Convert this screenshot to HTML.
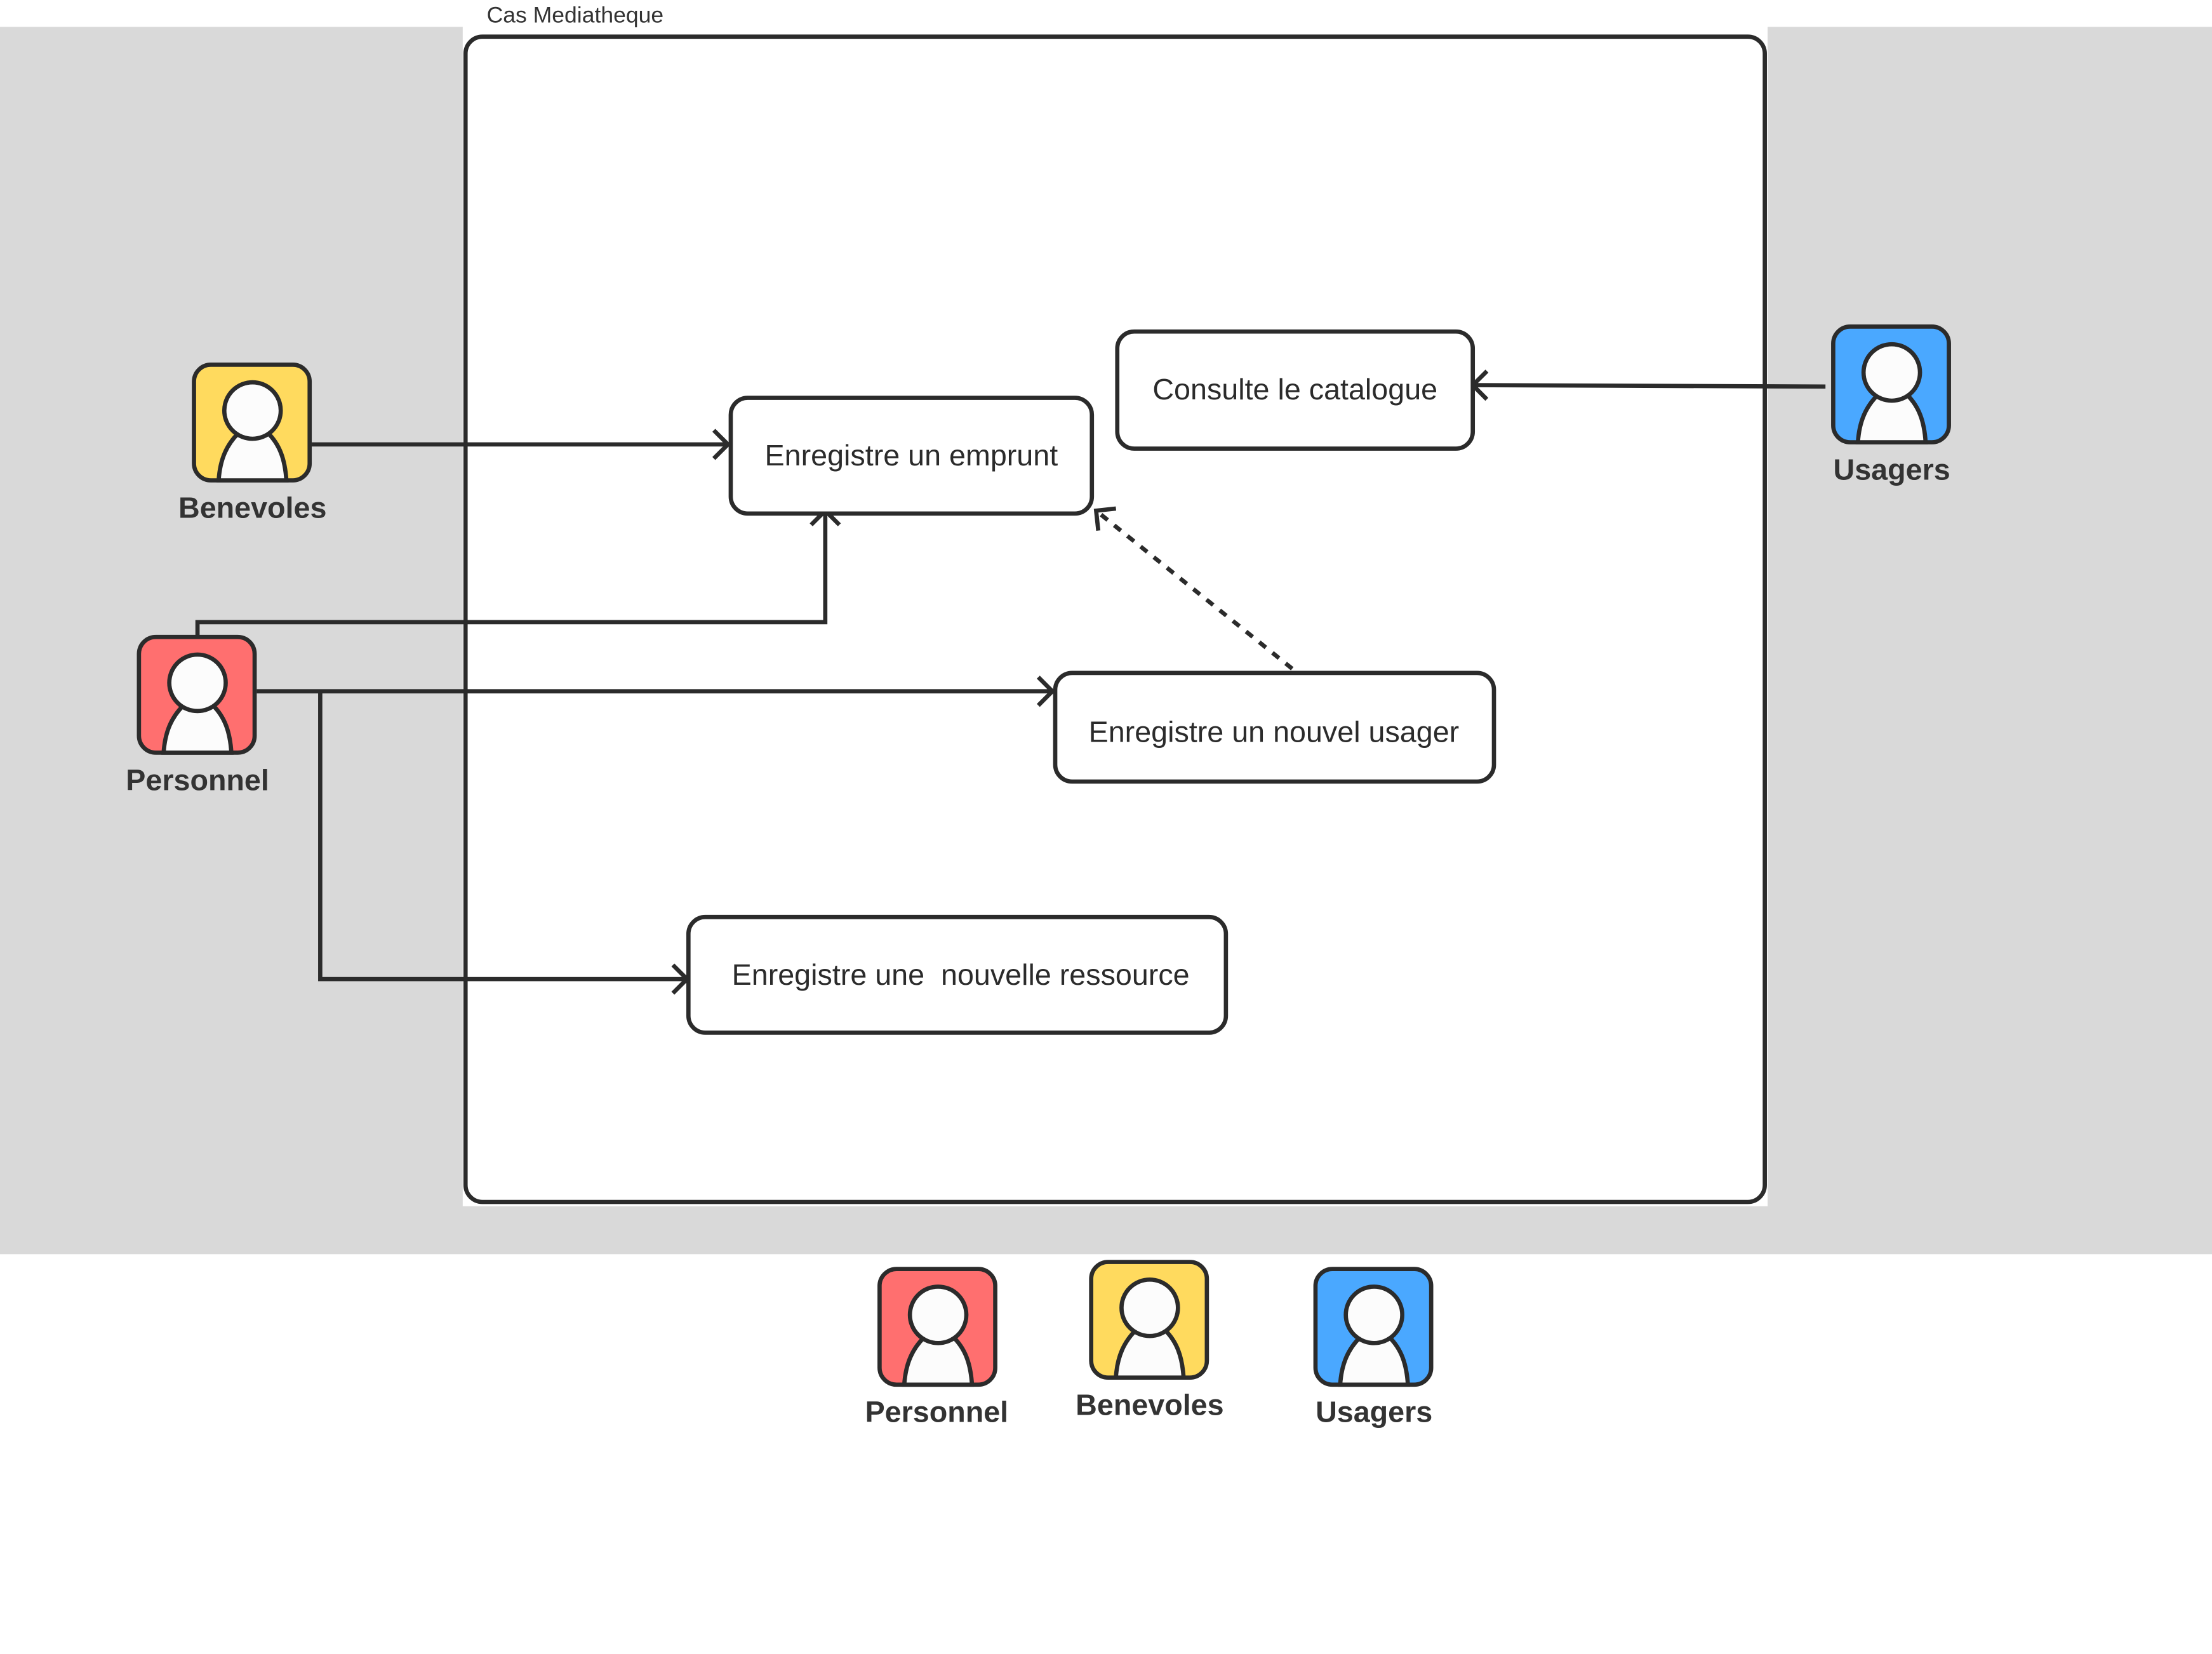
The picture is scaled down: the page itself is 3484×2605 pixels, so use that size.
<!DOCTYPE html>
<html><head><meta charset="utf-8"><style>html,body{margin:0;padding:0;background:#fff}svg{display:block}</style></head>
<body>
<svg width="3484" height="2605" viewBox="0 0 1568 1172.4" xmlns="http://www.w3.org/2000/svg" font-family="Liberation Sans, sans-serif">
<defs>
<g id="act">
<rect x="1.5" y="1.5" width="82" height="82" rx="12" stroke="#2b2b2b" stroke-width="3"/>
<path d="M19 83.5 C20 68 25 58 33 50 L54 50 C62 58 66 68 67 83.5 Z" fill="#fcfcfc" stroke="#2b2b2b" stroke-width="3"/>
<circle cx="43" cy="34" r="20" fill="#fcfcfc" stroke="#2b2b2b" stroke-width="3"/>
</g>
<marker id="ar" markerWidth="24" markerHeight="26" refX="13" refY="13" orient="auto" markerUnits="userSpaceOnUse"><path d="M3 3 L13 13 L3 23" fill="none" stroke="#2b2b2b" stroke-width="3"/></marker>
</defs>
<rect x="0" y="19" width="1568" height="870" fill="#d9d9d9"/>
<rect x="328" y="0" width="925" height="855" fill="#fff"/>
<text x="345" y="16" font-size="16" fill="#333">Cas Mediatheque</text>
<rect x="330" y="26" width="921" height="826" rx="12" fill="#fff" stroke="#2b2b2b" stroke-width="3"/>
<g fill="none" stroke="#2b2b2b" stroke-width="3">
<path d="M221 315 H516" marker-end="url(#ar)"/>
<path d="M140 452 V441 H585 V362" marker-end="url(#ar)"/>
<path d="M182 490 H746" marker-end="url(#ar)"/>
<path d="M227 490 V694 H487" marker-end="url(#ar)"/>
<path d="M1294 274 L1044 273" marker-end="url(#ar)"/>
<path d="M916 474 L777 362" stroke-dasharray="6,6" marker-end="url(#ar)"/>
</g>
<g fill="#fff" stroke="#2b2b2b" stroke-width="3">
<rect x="518" y="282" width="256" height="82" rx="12"/>
<rect x="792" y="235" width="252" height="83" rx="12"/>
<rect x="748" y="477" width="311" height="77" rx="12"/>
<rect x="488" y="650" width="381" height="82" rx="12"/>
</g>
<g font-size="21" fill="#2b2b2b" text-anchor="middle">
<text x="646" y="330">Enregistre un emprunt</text>
<text x="918" y="283">Consulte le catalogue</text>
<text x="903" y="526">Enregistre un nouvel usager</text>
<text x="681" y="698" xml:space="preserve">Enregistre une  nouvelle ressource</text>
</g>
<use href="#act" x="136" y="257" fill="#ffda5e"/>
<use href="#act" x="97" y="450" fill="#ff6f6f"/>
<use href="#act" x="1298" y="230" fill="#4aa8ff"/>
<use href="#act" x="622" y="898" fill="#ff6f6f"/>
<use href="#act" x="772" y="893" fill="#ffda5e"/>
<use href="#act" x="931" y="898" fill="#4aa8ff"/>
<g font-size="21" fill="#333" text-anchor="middle" font-weight="bold">
<text x="179" y="367">Benevoles</text>
<text x="140" y="560">Personnel</text>
<text x="1341" y="340">Usagers</text>
<text x="664" y="1008">Personnel</text>
<text x="815" y="1003">Benevoles</text>
<text x="974" y="1008">Usagers</text>
</g>
</svg>
</body></html>
